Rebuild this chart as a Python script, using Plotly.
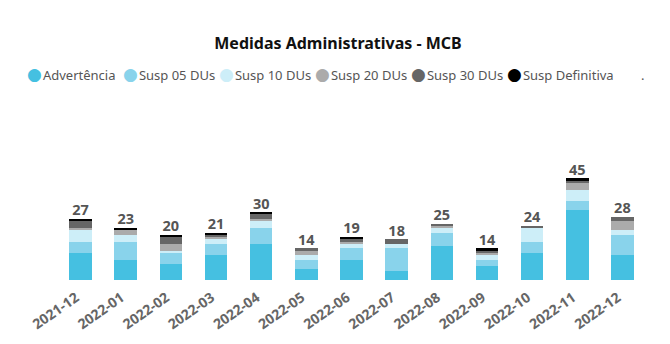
import plotly.graph_objects as go

months = ["2021-12", "2022-01", "2022-02", "2022-03", "2022-04", "2022-05", "2022-06",
          "2022-07", "2022-08", "2022-09", "2022-10", "2022-11", "2022-12"]
advertencia = [12, 9, 7, 11, 16, 5, 9, 4, 15, 6, 12, 31, 11]
susp05 = [5, 8, 5, 5, 7, 4, 5, 10, 6, 3, 5, 4, 9]
susp10 = [5, 3, 1, 2, 3, 2, 2, 2, 2, 2, 6, 5, 2]
susp20 = [1, 2, 3, 1, 1, 2, 1, 0, 1, 1, 0, 3, 4]
susp30 = [3, 0, 3, 1, 2, 1, 1, 2, 1, 1, 1, 1, 2]
definitiva = [1, 1, 1, 1, 1, 0, 1, 0, 0, 1, 0, 1, 0]

series = [
    ("Advertência", advertencia, "#45C0E1"),
    ("Susp 05 DUs", susp05, "#89D3EB"),
    ("Susp 10 DUs", susp10, "#CDEEF8"),
    ("Susp 20 DUs", susp20, "#ABABAB"),
    ("Susp 30 DUs", susp30, "#666666"),
    ("Susp Definitiva", definitiva, "#000000"),
]

xs = list(range(len(months)))
totals = [sum(v) for v in zip(*[s[1] for s in series])]

fig = go.Figure()
for name, vals, col in series:
    fig.add_trace(go.Bar(x=xs, y=vals, name=name, marker=dict(color=col, line=dict(width=0)),
                         showlegend=False, hoverinfo="skip"))
# legend entries: coloured dot drawn as text glyph so that it sits close to the label
for name, vals, col in series:
    label = (f'<span style="color:{col};font-size:17px;font-family:DejaVu Sans">●</span>'
             f'<span style="font-size:4px"> </span>{name}')
    fig.add_trace(go.Scatter(x=[None], y=[None], mode="markers", name=label,
                             marker=dict(symbol="circle", size=1, color="rgba(0,0,0,0)")))
# empty spacer entry so the last legend label is not clipped
fig.add_trace(go.Scatter(x=[None], y=[None], mode="markers", name="",
                         marker=dict(symbol="circle", size=1, color="rgba(0,0,0,0)")))

fig.add_trace(go.Scatter(x=xs, y=totals, mode="text", text=[str(t) for t in totals],
                         textposition="top center", showlegend=False, cliponaxis=False,
                         textfont=dict(family="Noto Sans", size=14.5, color="#555555", weight="bold")))

L, PX = 58, 587 / 13.0  # left margin, pixels per category
W = 670 - L

# blank-category legend item shown as "."
fig.add_annotation(text=".", xref="paper", yref="paper", x=(642 - L) / W, y=1.28,
                   xanchor="center", yanchor="middle", showarrow=False,
                   font=dict(family="Noto Sans", size=13, color="#555555"))

fig.update_layout(
    width=670, height=344,
    barmode="stack", bargap=0.5,
    plot_bgcolor="white", paper_bgcolor="white",
    margin=dict(l=L, r=0, t=120, b=64, autoexpand=False),
    title=dict(text="<b>Medidas Administrativas - MCB</b>", x=(338 - L) / W, xanchor="center",
               xref="paper", y=1 - 43 / 344, yanchor="middle",
               font=dict(family="Noto Sans", size=16, color="#111111")),
    legend=dict(orientation="h", x=(-13 - L) / W, xanchor="left", y=1.28, yanchor="middle",
                traceorder="normal", entrywidth=51, entrywidthmode="pixels",
                font=dict(family="Noto Sans", size=13, color="#555555"),
                itemwidth=30, tracegroupgap=0, bgcolor="rgba(0,0,0,0)"),
    xaxis=dict(range=[-0.5, -0.5 + W / PX], tickvals=[x - 0.1 for x in xs], ticktext=months,
               tickangle=-35, showgrid=False, zeroline=False, showline=False, ticks="",
               ticklabelstandoff=6,
               tickfont=dict(family="Noto Sans", size=14, color="#666666", weight="bold")),
    yaxis=dict(range=[0, 70.8], visible=False),
)

fig.write_html("out.html")
